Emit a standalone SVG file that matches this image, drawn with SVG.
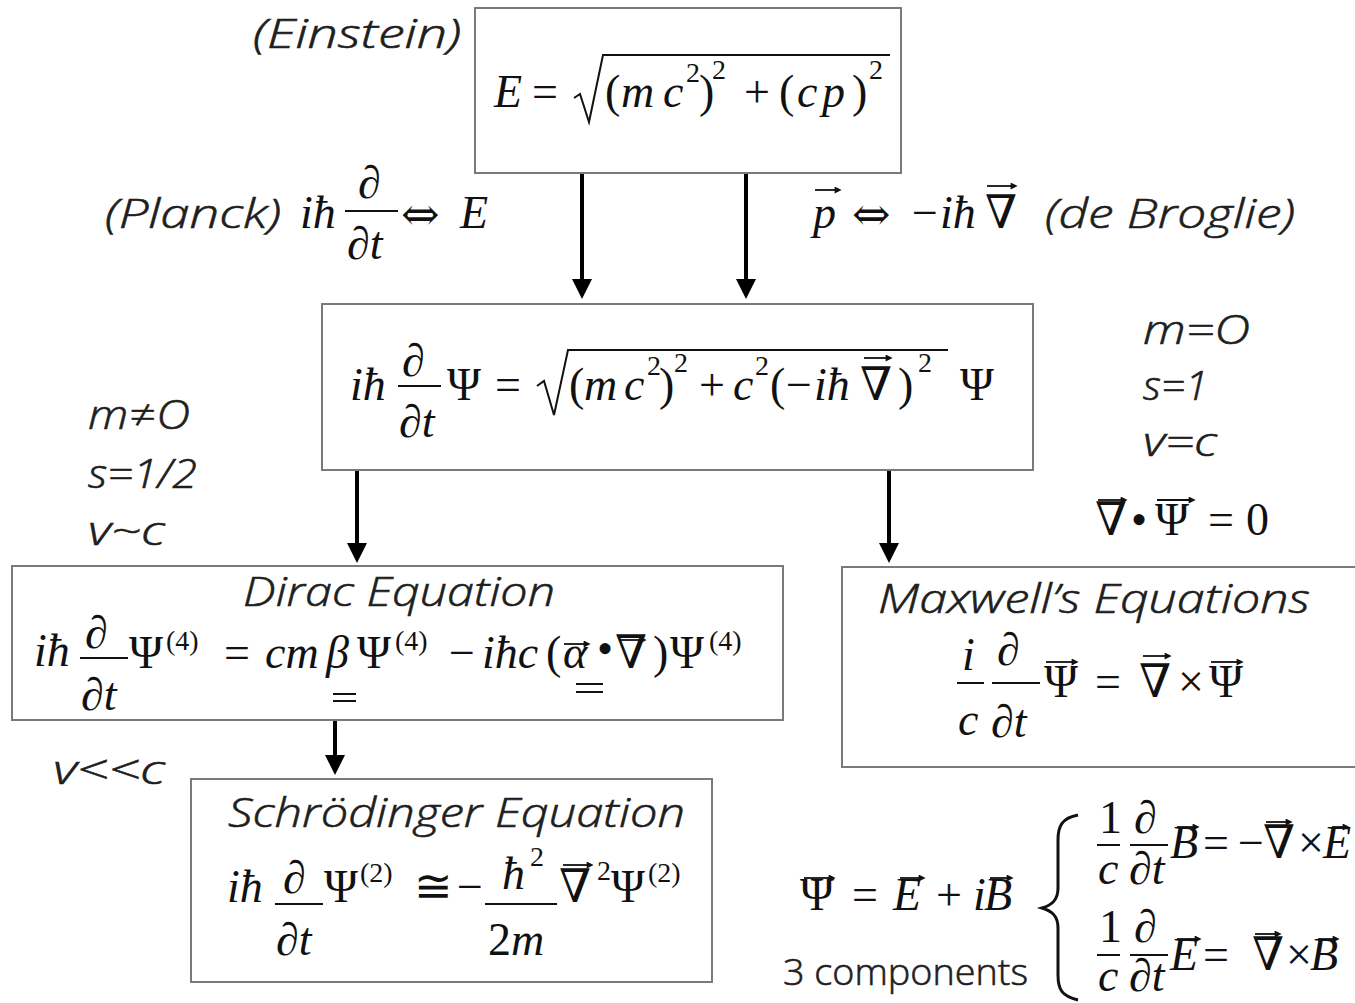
<svg xmlns="http://www.w3.org/2000/svg" width="1355" height="1003" viewBox="0 0 1355 1003">
<style>
.box{fill:#fff;stroke:#7a7a7a;stroke-width:2}
.lbl{font-family:"Open Sans","DejaVu Sans",sans-serif;font-style:italic;font-weight:300;font-size:40px;fill:#1e1e1e;stroke:#1e1e1e;stroke-width:0.6}
.up{font-family:"Open Sans","DejaVu Sans",sans-serif;font-weight:300;font-size:36px;fill:#1e1e1e;stroke:#1e1e1e;stroke-width:0.6}
.m{font-family:"Liberation Serif","DejaVu Serif",serif;font-style:italic;font-size:46px;fill:#111}
.r{font-style:normal}
.sym{font-family:"DejaVu Serif",serif;font-style:normal;font-size:46px;fill:#111}
.s{font-family:"Liberation Serif","DejaVu Serif",serif;font-size:28px;fill:#111}
.bar{stroke:#111;stroke-width:2}
.vec{stroke:#111;stroke-width:1.8}
.rad{fill:none;stroke:#111;stroke-width:2;stroke-linejoin:miter}
.con{stroke:#000;stroke-width:4}
</style>
<defs>
<marker id="vh" viewBox="0 0 10 10" refX="2" refY="5" markerWidth="8" markerHeight="7" markerUnits="userSpaceOnUse" orient="auto"><path d="M0,0 L10,5 L0,10z" fill="#111"/></marker>
<marker id="ah" viewBox="0 0 10 10" refX="0" refY="5" markerWidth="24" markerHeight="20" markerUnits="userSpaceOnUse" orient="auto"><path d="M0,0 L10,5 L0,10z" fill="#000"/></marker>
</defs>
<rect width="1355" height="1003" fill="#fff"/>

<g id="connectors">
<line class="con" x1="582" y1="173" x2="582" y2="279" marker-end="url(#ah)"/>
<line class="con" x1="746" y1="173" x2="746" y2="279" marker-end="url(#ah)"/>
<line class="con" x1="357" y1="470" x2="357" y2="543" marker-end="url(#ah)"/>
<line class="con" x1="889" y1="470" x2="889" y2="543" marker-end="url(#ah)"/>
<line class="con" x1="335" y1="720" x2="335" y2="755" marker-end="url(#ah)"/>
</g>

<g id="einstein-label"><text class="lbl" x="253" y="48" textLength="208" lengthAdjust="spacingAndGlyphs">(Einstein)</text></g>

<g id="einstein">
<rect class="box" x="475" y="8" width="426" height="165"/>
<text class="m" x="494" y="107" font-size="48">E</text>
<text class="m r" x="532" y="107" font-size="48">=</text>
<polyline class="rad" points="574,98 580,94 589,122 603,55 890,55"/>
<text class="m r" x="605" y="107" font-size="48">(</text>
<text class="m" x="621" y="107" font-size="50">m</text>
<text class="m" x="663" y="107" font-size="50">c</text>
<text class="s" x="686" y="82">2</text>
<text class="m r" x="699" y="107" font-size="48">)</text>
<text class="s" x="712" y="79">2</text>
<text class="m r" x="744" y="107" font-size="48">+</text>
<text class="m r" x="779" y="107" font-size="48">(</text>
<text class="m" x="797" y="107" font-size="50">c</text>
<text class="m" x="822" y="107" font-size="50">p</text>
<text class="m r" x="852" y="107" font-size="48">)</text>
<text class="s" x="869" y="79">2</text>
</g>

<g id="planck">
<text class="lbl" x="105" y="228" textLength="176" lengthAdjust="spacingAndGlyphs">(Planck)</text>
<text class="m" x="300" y="228">iħ</text>
<text class="m" x="358" y="198">∂</text>
<line class="bar" x1="345" y1="211" x2="398" y2="211"/>
<text class="m" x="347" y="259">∂t</text>
<text class="sym" x="401" y="230" font-size="54">⇔</text>
<text class="m" x="460" y="228">E</text>
</g>

<g id="debroglie">
<line class="vec" x1="815" y1="190" x2="836" y2="190" marker-end="url(#vh)"/>
<text class="m" x="813" y="228">p</text>
<text class="sym" x="852" y="230" font-size="54">⇔</text>
<text class="m r" x="912" y="228">−</text>
<text class="m" x="940" y="228">iħ</text>
<line class="vec" x1="987" y1="186" x2="1012" y2="186" marker-end="url(#vh)"/>
<text class="m r" x="985" y="228">∇</text>
<text class="lbl" x="1045" y="228" textLength="250" lengthAdjust="spacingAndGlyphs">(de Broglie)</text>
</g>

<g id="klein-gordon">
<rect class="box" x="322" y="304" width="711" height="166"/>
<text class="m" x="350" y="400">iħ</text>
<text class="m" x="402" y="376">∂</text>
<line class="bar" x1="398" y1="386" x2="441" y2="386"/>
<text class="m" x="399" y="437">∂t</text>
<text class="m r" x="447" y="400">Ψ</text>
<text class="m r" x="495" y="400">=</text>
<polyline class="rad" points="537,386 544,381 554,415 568,350 948,350"/>
<text class="m r" x="569" y="400">(</text>
<text class="m" x="584" y="400" font-size="48">m</text>
<text class="m" x="624" y="400" font-size="48">c</text>
<text class="s" x="647" y="375">2</text>
<text class="m r" x="659" y="400">)</text>
<text class="s" x="674" y="372">2</text>
<text class="m r" x="699" y="400">+</text>
<text class="m" x="733" y="400" font-size="48">c</text>
<text class="s" x="755" y="375">2</text>
<text class="m r" x="770" y="400">(</text>
<text class="m r" x="786" y="400">−</text>
<text class="m" x="814" y="400">iħ</text>
<line class="vec" x1="864" y1="358" x2="887" y2="358" marker-end="url(#vh)"/>
<text class="m r" x="860" y="400">∇</text>
<text class="m r" x="898" y="400">)</text>
<text class="s" x="918" y="372">2</text>
<text class="m r" x="960" y="400">Ψ</text>
</g>

<g id="massive-conditions">
<text class="lbl" x="88" y="429" textLength="102" lengthAdjust="spacingAndGlyphs">m≠O</text>
<text class="lbl" x="88" y="488" textLength="109" lengthAdjust="spacingAndGlyphs">s=1/2</text>
<text class="lbl" x="88" y="545" textLength="77" lengthAdjust="spacingAndGlyphs">v~c</text>
</g>

<g id="massless-conditions">
<text class="lbl" x="1143" y="344" textLength="107" lengthAdjust="spacingAndGlyphs">m=O</text>
<text class="lbl" x="1143" y="400" textLength="65" lengthAdjust="spacingAndGlyphs">s=1</text>
<text class="lbl" x="1143" y="456" textLength="74" lengthAdjust="spacingAndGlyphs">v=c</text>
<line class="vec" x1="1098" y1="500" x2="1122" y2="500" marker-end="url(#vh)"/>
<text class="m r" x="1095" y="535">∇</text>
<text class="m r" x="1131" y="535">•</text>
<line class="vec" x1="1157" y1="500" x2="1190" y2="500" marker-end="url(#vh)"/>
<text class="m r" x="1155" y="535">Ψ</text>
<text class="m r" x="1208" y="535">=</text>
<text class="m r" x="1246" y="535">0</text>
</g>

<g id="dirac">
<rect class="box" x="12" y="566" width="771" height="154"/>
<text class="lbl" x="243" y="606" textLength="312" lengthAdjust="spacingAndGlyphs">Dirac Equation</text>
<text class="m" x="34" y="666">iħ</text>
<text class="m" x="85" y="648">∂</text>
<line class="bar" x1="80" y1="658" x2="128" y2="658"/>
<text class="m" x="81" y="710">∂t</text>
<text class="m r" x="129" y="668">Ψ</text>
<text class="s" x="166" y="650" font-size="31">(4)</text>
<text class="m r" x="224" y="668">=</text>
<text class="m" x="265" y="668">cm</text>
<text class="m" x="326" y="668">β</text>
<line class="bar" x1="333" y1="694" x2="356" y2="694"/>
<line class="bar" x1="333" y1="701" x2="356" y2="701"/>
<text class="m r" x="357" y="668">Ψ</text>
<text class="s" x="395" y="650" font-size="31">(4)</text>
<text class="m r" x="449" y="668">−</text>
<text class="m" x="482" y="668">iħc</text>
<text class="m r" x="546" y="668">(</text>
<line class="vec" x1="564" y1="644" x2="585" y2="644" marker-end="url(#vh)"/>
<text class="m" x="563" y="668">α</text>
<line class="bar" x1="576" y1="684" x2="603" y2="684"/>
<line class="bar" x1="576" y1="692" x2="603" y2="692"/>
<text class="m r" x="597" y="664" font-size="34">•</text>
<line class="vec" x1="619" y1="640" x2="641" y2="640" marker-end="url(#vh)"/>
<text class="m r" x="615" y="668">∇</text>
<text class="m r" x="653" y="668">)</text>
<text class="m r" x="670" y="668">Ψ</text>
<text class="s" x="709" y="650" font-size="31">(4)</text>
</g>

<g id="maxwell">
<rect class="box" x="842" y="567" width="520" height="200"/>
<text class="lbl" x="878" y="613" textLength="432" lengthAdjust="spacingAndGlyphs">Maxwell’s Equations</text>
<text class="m" x="962" y="670">i</text>
<line class="bar" x1="957" y1="683" x2="984" y2="683"/>
<text class="m" x="958" y="735">c</text>
<text class="m" x="997" y="665" font-size="44">∂</text>
<line class="bar" x1="992" y1="683" x2="1040" y2="683"/>
<text class="m" x="991" y="737">∂t</text>
<line class="vec" x1="1046" y1="662" x2="1073" y2="662" marker-end="url(#vh)"/>
<text class="m r" x="1044" y="697">Ψ</text>
<text class="m r" x="1095" y="697">=</text>
<line class="vec" x1="1143" y1="656" x2="1166" y2="656" marker-end="url(#vh)"/>
<text class="m r" x="1139" y="697">∇</text>
<text class="m r" x="1178" y="697">×</text>
<line class="vec" x1="1211" y1="662" x2="1238" y2="662" marker-end="url(#vh)"/>
<text class="m r" x="1209" y="697">Ψ</text>
</g>

<g id="v-label"><text class="lbl" x="53" y="784" textLength="112" lengthAdjust="spacingAndGlyphs">v&lt;&lt;c</text></g>

<g id="schrodinger">
<rect class="box" x="191" y="779" width="521" height="203"/>
<text class="lbl" x="228" y="827" textLength="457" lengthAdjust="spacingAndGlyphs">Schrödinger Equation</text>
<text class="m" x="227" y="902">iħ</text>
<text class="m" x="283" y="893">∂</text>
<line class="bar" x1="275" y1="904" x2="323" y2="904"/>
<text class="m" x="276" y="955">∂t</text>
<text class="m r" x="324" y="902">Ψ</text>
<text class="s" x="360" y="882" font-size="31">(2)</text>
<text class="m r" x="414" y="902">≅</text>
<text class="m r" x="457" y="902">−</text>
<text class="m" x="502" y="889">ħ</text>
<text class="s" x="530" y="866">2</text>
<line class="bar" x1="485" y1="904" x2="557" y2="904"/>
<text class="m r" x="488" y="955">2</text>
<text class="m" x="511" y="955">m</text>
<line class="vec" x1="563" y1="865" x2="588" y2="865" marker-end="url(#vh)"/>
<text class="m r" x="559" y="902">∇</text>
<text class="s" x="597" y="880">2</text>
<text class="m r" x="611" y="902">Ψ</text>
<text class="s" x="648" y="882" font-size="31">(2)</text>
</g>

<g id="maxwell-components">
<line class="vec" x1="804" y1="878" x2="830" y2="878" marker-end="url(#vh)"/>
<text class="m r" x="800" y="910">Ψ</text>
<text class="m r" x="852" y="910">=</text>
<line class="vec" x1="900" y1="878" x2="920" y2="878" marker-end="url(#vh)"/>
<text class="m" x="893" y="910">E</text>
<text class="m r" x="936" y="910">+</text>
<text class="m" x="973" y="910">i</text>
<line class="vec" x1="990" y1="878" x2="1008" y2="878" marker-end="url(#vh)"/>
<text class="m" x="984" y="910">B</text>
<text class="up" x="783" y="985" textLength="245" lengthAdjust="spacingAndGlyphs">3 components</text>
<path d="M1078,815 C1062,818 1058,826 1058,840 L1058,888 C1058,900 1052,905 1042,908 C1052,911 1058,916 1058,928 L1058,975 C1058,990 1062,996 1078,1000" fill="none" stroke="#111" stroke-width="3"/>
<text class="m r" x="1099" y="833" font-size="40">1</text>
<line class="bar" x1="1097" y1="845" x2="1120" y2="845"/>
<text class="m" x="1098" y="884" font-size="40">c</text>
<text class="m" x="1134" y="833" font-size="40">∂</text>
<line class="bar" x1="1130" y1="845" x2="1168" y2="845"/>
<text class="m" x="1129" y="884" font-size="40">∂t</text>
<line class="vec" x1="1177" y1="827" x2="1194" y2="827" marker-end="url(#vh)"/>
<text class="m" x="1170" y="858" font-size="40">B</text>
<text class="m r" x="1203" y="858" font-size="40">=</text>
<text class="m r" x="1238" y="858" font-size="40">−</text>
<line class="vec" x1="1266" y1="822" x2="1287" y2="822" marker-end="url(#vh)"/>
<text class="m r" x="1263" y="858" font-size="40">∇</text>
<text class="m r" x="1298" y="858" font-size="40">×</text>
<line class="vec" x1="1332" y1="827" x2="1344" y2="827" marker-end="url(#vh)"/>
<text class="m" x="1323" y="858" font-size="40">E</text>
<text class="m r" x="1099" y="942" font-size="40">1</text>
<line class="bar" x1="1097" y1="955" x2="1120" y2="955"/>
<text class="m" x="1098" y="991" font-size="40">c</text>
<text class="m" x="1134" y="942" font-size="40">∂</text>
<line class="bar" x1="1130" y1="955" x2="1168" y2="955"/>
<text class="m" x="1129" y="991" font-size="40">∂t</text>
<line class="vec" x1="1177" y1="939" x2="1196" y2="939" marker-end="url(#vh)"/>
<text class="m" x="1170" y="970" font-size="40">E</text>
<text class="m r" x="1203" y="970" font-size="40">=</text>
<line class="vec" x1="1255" y1="934" x2="1276" y2="934" marker-end="url(#vh)"/>
<text class="m r" x="1252" y="970" font-size="40">∇</text>
<text class="m r" x="1286" y="970" font-size="40">×</text>
<line class="vec" x1="1318" y1="939" x2="1334" y2="939" marker-end="url(#vh)"/>
<text class="m" x="1310" y="970" font-size="40">B</text>
</g>
</svg>
